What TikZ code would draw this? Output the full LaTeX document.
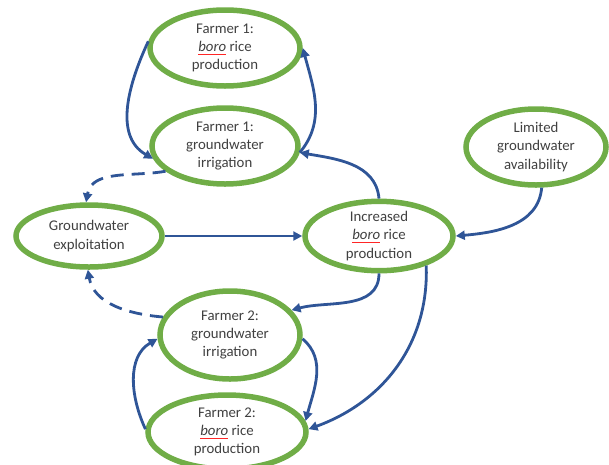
\documentclass[tikz,border=0pt]{standalone}
\usepackage{fontspec}
\setmainfont{Carlito}
\usetikzlibrary{shapes.geometric,arrows.meta}
\definecolor{egreen}{HTML}{70AD47}
\definecolor{ablue}{HTML}{2F5597}
\definecolor{tgray}{HTML}{404040}
\newcommand\boro{\setbox0\hbox{\itshape boro}\rlap{\color{red!85}\raisebox{-2.8pt}{\rule{\wd0}{0.7pt}}}\box0}
\begin{document}
\begin{tikzpicture}[x=1pt,y=-1pt,
  ell/.style={ellipse,draw=egreen,line width=5.5pt,inner sep=0pt,align=center,
    text=tgray,font=\fontsize{14.8}{18.2}\selectfont},
  link/.style={draw=ablue,line width=2.8pt,-{Triangle[length=9pt,width=9pt]}},
  dlink/.style={link,dash pattern=on 13pt off 8pt}]
\useasboundingbox (0,0) rectangle (609,464);
\node[ell,minimum width=150pt,minimum height=76pt] (f1b) at (225,48) {Farmer 1:\\\boro{} rice\\production};
\node[ell,minimum width=146pt,minimum height=76pt] (f1g) at (225,146) {Farmer 1:\\groundwater\\irrigation};
\node[ell,minimum width=140pt,minimum height=76pt] (lim) at (536,147) {Limited\\groundwater\\availability};
\node[ell,minimum width=146pt,minimum height=62pt] (exp) at (89,236) {Groundwater\\exploitation};
\node[ell,minimum width=148pt,minimum height=62pt] (inc) at (379,236) {Increased\\\boro{} rice\\production};
\node[ell,minimum width=140pt,minimum height=88pt] (f2g) at (230,335) {Farmer 2:\\groundwater\\irrigation};
\node[ell,minimum width=158pt,minimum height=74pt] (f2b) at (227,432) {Farmer 2:\\\boro{} rice\\production};
\path[link] (f1b.175) to[out=245,in=150] (f1g.190);
\path[link] (f1g.-5) to[out=50,in=-75] (f1b.0);
\path[link] (inc.90) to[out=95,in=-10] (f1g.-5);
\path[dlink] (f1g.203) to[out=190,in=80] (exp.95);
\path[link] (exp.east) -- (inc.west);
\path[link] (lim.-82) to[out=-95,in=5] (inc.east);
\path[link] (inc.-90) to[out=-90,in=15] (f2g.22);
\path[dlink] (f2g.165) to[out=175,in=-80] (exp.-92);
\path[link] (inc.-32) to[out=-88,in=20] (f2b.2);
\path[link] (f2g.-3) to[out=-40,in=75] (f2b.8);
\path[link] (f2b.178) to[out=115,in=210] (f2g.183);
\end{tikzpicture}
\end{document}
